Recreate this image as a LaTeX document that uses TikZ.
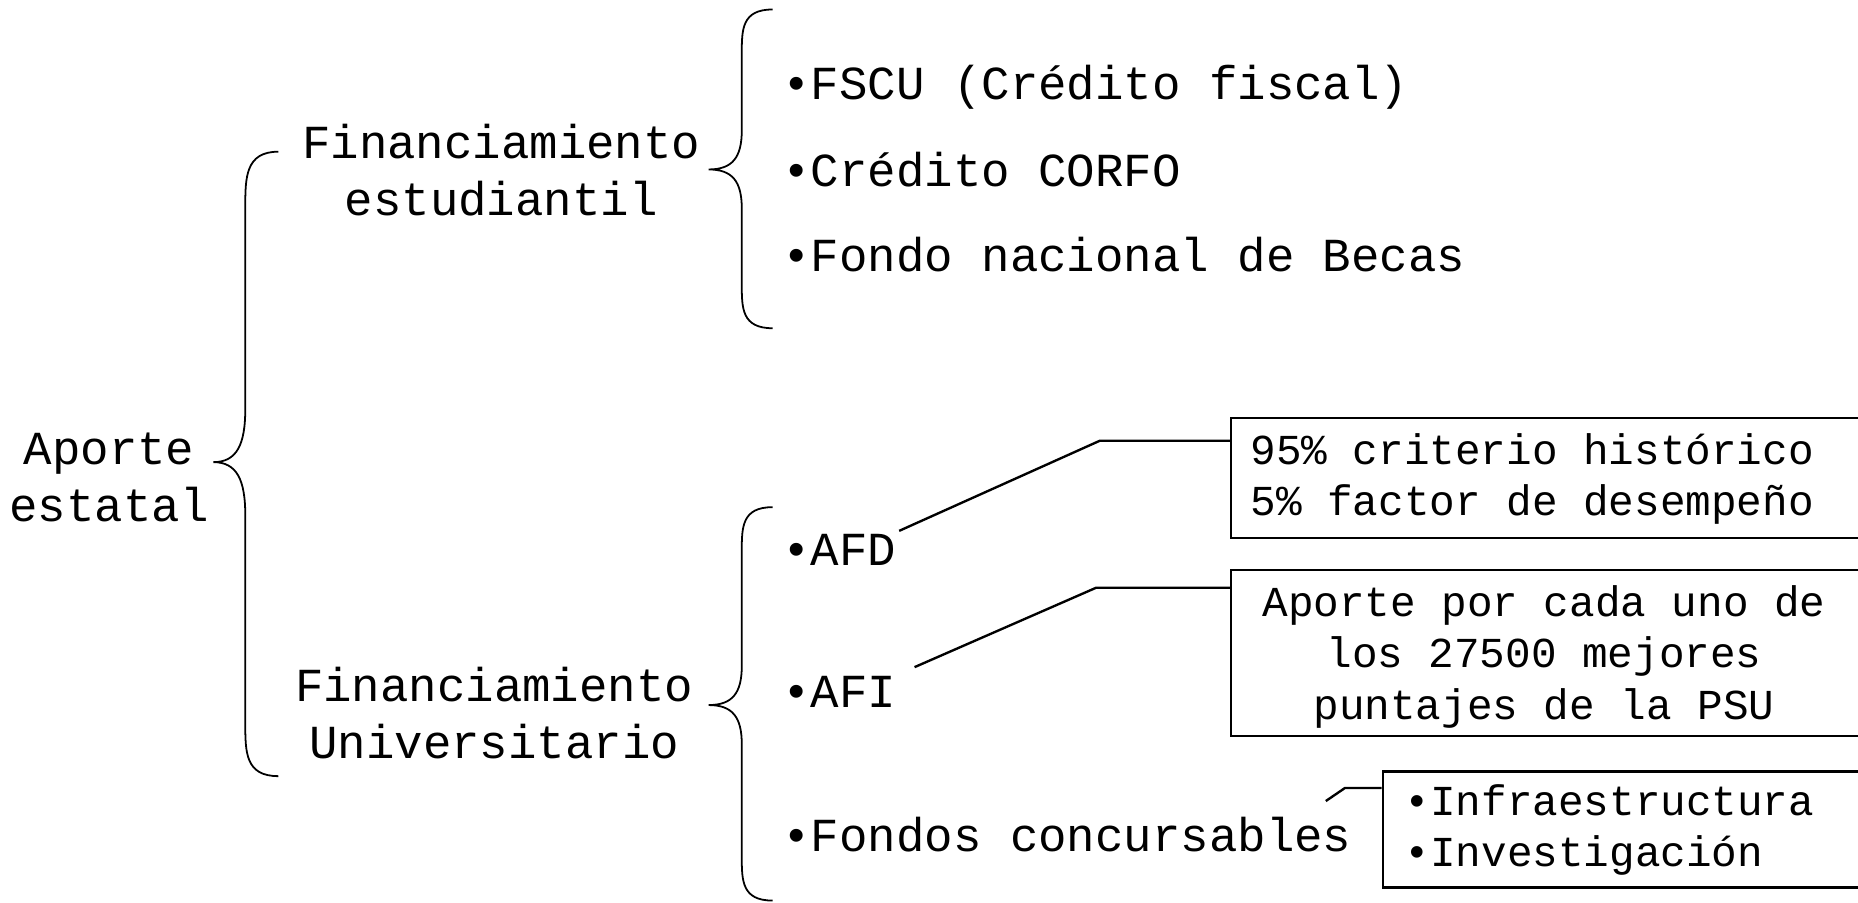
\documentclass[tikz,border=0pt]{standalone}
\usepackage{fontspec}
\setmainfont{Liberation Mono}
\usetikzlibrary{calc}
\begin{document}
\begin{tikzpicture}[x=0.5pt,y=-0.5pt,
  big/.style={font=\fontsize{20pt}{24pt}\selectfont, inner sep=0pt},
  small/.style={font=\fontsize{18pt}{21.6pt}\selectfont, inner sep=0pt},
  brace/.style={line width=0.75pt},
  conn/.style={line width=1pt},
  boxed/.style={draw, line width=1pt, inner sep=0pt, anchor=north west}]
\useasboundingbox (0,0) rectangle (1568,762);
\clip (0,0) rectangle (1568,762);

% main texts
\node[big, anchor=base] (ap1) at (92,392) {Aporte};
\node[big, anchor=base] (ap2) at (92,440) {estatal};
\node[big, anchor=base] (fe1) at (423,134) {Financiamiento};
\node[big, anchor=base] (fe2) at (423,182) {estudiantil};
\node[big, anchor=base] (fu1) at (417,592) {Financiamiento};
\node[big, anchor=base] (fu2) at (417,640) {Universitario};

\node[big, anchor=base west] (fscu) at (660,84) {•FSCU (Crédito fiscal)};
\node[big, anchor=base west] (corfo) at (660,157) {•Crédito CORFO};
\node[big, anchor=base west] (becas) at (660,229) {•Fondo nacional de Becas};
\node[big, anchor=base west] (afd) at (660,477) {•AFD};
\node[big, anchor=base west] (afi) at (660,597) {•AFI};
\node[big, anchor=base west] (fondos) at (660,719) {•Fondos concursables};

% boxes
\node[boxed, minimum width=271pt, minimum height=50.5pt] (b1) at (1038,352) {};
\node[boxed, minimum width=271pt, minimum height=70pt] (b2) at (1038,480) {};
\node[boxed, minimum width=207pt, minimum height=49pt] (b3) at (1166,650) {};

\node[small, anchor=base west] (t11) at (1055,392) {95\% criterio histórico};
\node[small, anchor=base west] (t12) at (1055,435) {5\% factor de desempeño};
\node[small, anchor=base] (t21) at (1303,520) {Aporte por cada uno de};
\node[small, anchor=base] (t22) at (1303,563) {los 27500 mejores};
\node[small, anchor=base] (t23) at (1303,607) {puntajes de la PSU};
\node[small, anchor=base west] (t31) at (1185,688) {•Infraestructura};
\node[small, anchor=base west] (t32) at (1185,731) {•Investigación};

% connectors
\coordinate (k1) at (928,372);
\coordinate (k2) at (925,496);
\coordinate (k3) at (1135,665);
\draw[conn] ($(afd.base east)+(2,-29)$) -- (k1) -- (k1 -| b1.west);
\draw[conn] ($(afi.base east)+(15,-34)$) -- (k2) -- (k2 -| b2.west);
\draw[conn] ($(fondos.base east)+(-22,-43)$) -- (k3) -- (k3 -| b3.west);

% braces
\draw[brace] (235,128) .. controls (207,128) and (207,150) .. (207,175) -- (207,345)
  .. controls (207,375) and (200,390) .. (180,390)
  .. controls (200,390) and (207,405) .. (207,435) -- (207,610)
  .. controls (207,635) and (207,655) .. (235,655);
\draw[brace] (652,8) .. controls (626,8) and (626,25) .. (626,45) -- (626,110)
  .. controls (626,133) and (618,143) .. (598,143)
  .. controls (618,143) and (626,153) .. (626,176) -- (626,240)
  .. controls (626,260) and (626,277) .. (652,277);
\draw[brace] (652,428) .. controls (626,428) and (626,445) .. (626,465) -- (626,562)
  .. controls (626,585) and (618,595) .. (598,595)
  .. controls (618,595) and (626,605) .. (626,628) -- (626,723)
  .. controls (626,743) and (626,760) .. (652,760);
\end{tikzpicture}
\end{document}
